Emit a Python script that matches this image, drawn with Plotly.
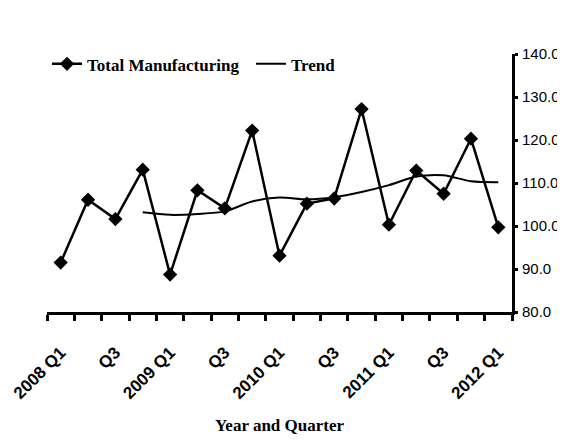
import plotly.graph_objects as go

quarters = ["2008 Q1", "2008 Q2", "2008 Q3", "2008 Q4",
            "2009 Q1", "2009 Q2", "2009 Q3", "2009 Q4",
            "2010 Q1", "2010 Q2", "2010 Q3", "2010 Q4",
            "2011 Q1", "2011 Q2", "2011 Q3", "2011 Q4",
            "2012 Q1"]
tick_labels = ["2008 Q1", "", "Q3", "", "2009 Q1", "", "Q3", "", "2010 Q1", "",
               "Q3", "", "2011 Q1", "", "Q3", "", "2012 Q1"]
total_manufacturing = [91.5, 106.1, 101.6, 113.1, 88.7, 108.3, 104.1, 122.2, 93.1,
                       105.2, 106.4, 127.2, 100.3, 112.9, 107.5, 120.3, 99.7]
trend = [None, None, None, 103.2, 102.6, 102.8, 103.4, 105.7, 106.6,
         106.2, 106.7, 107.9, 109.5, 111.5, 111.8, 110.4, 110.2]

xs = list(range(len(quarters)))

fig = go.Figure()
fig.add_trace(go.Scatter(
    x=xs, y=total_manufacturing, name="Total Manufacturing",
    mode="lines+markers",
    line=dict(color="black", width=2.5),
    marker=dict(symbol="diamond", size=11, color="black"),
    legendwidth=159,
))
fig.add_trace(go.Scatter(
    x=xs, y=trend, name="Trend", mode="lines",
    line=dict(color="black", width=2, shape="spline", smoothing=0.8),
    legendwidth=50,
))

fig.update_layout(
    width=565, height=441,
    margin=dict(l=39, r=61, t=46, b=137),
    paper_bgcolor="white", plot_bgcolor="white",
    showlegend=True,
    legend=dict(orientation="h", x=0, xanchor="left",
                y=0.96, yanchor="middle",
                font=dict(family="Liberation Serif", size=17, color="black", weight="bold"),
                bgcolor="rgba(0,0,0,0)", itemwidth=30,
                tracegroupgap=0),
    xaxis=dict(
        range=[-0.5, len(quarters) - 0.5],
        tickmode="array", tickvals=xs, ticktext=tick_labels,
        ticks="", tickangle=-45, ticklabelstandoff=21,
        tickfont=dict(family="Liberation Sans", size=17, color="black", weight="bold"),
        showline=True, linecolor="black", linewidth=3,
        showgrid=False, zeroline=False,
        minor=dict(tickmode="linear", tick0=-0.5, dtick=1, ticks="outside",
                   ticklen=6, tickwidth=2.5, tickcolor="black"),
        title=dict(text="Year and Quarter", standoff=18,
                   font=dict(family="Liberation Serif", size=17, color="black", weight="bold")),
        automargin=False,
    ),
    yaxis=dict(
        side="right", range=[80, 140], dtick=10, tick0=80, tickformat=".1f",
        ticks="outside", ticklen=3, tickwidth=3, tickcolor="black",
        ticklabelstandoff=1,
        showline=True, linecolor="black", linewidth=3,
        showgrid=False, zeroline=False,
        tickfont=dict(family="Liberation Sans", size=15, color="black"),
        automargin=False,
    ),
)

fig.write_html("out.html")
